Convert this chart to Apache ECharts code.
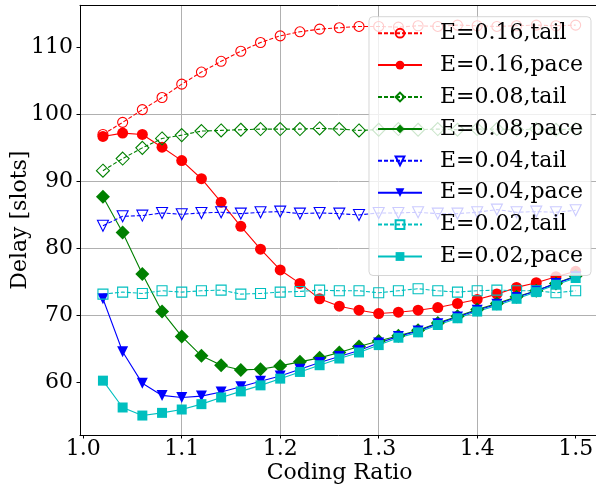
<!DOCTYPE html>
<html>
<head>
<meta charset="utf-8">
<script src="https://cdn.jsdelivr.net/npm/echarts@6/dist/echarts.min.js"></script>
<style>html,body{margin:0;padding:0;background:#fff;}#c{width:596px;height:489px;}</style>
</head>
<body>
<div id="c"></div>
<script>
const xValues = [1.02,1.04,1.06,1.08,1.10,1.12,1.14,1.16,1.18,1.20,1.22,1.24,1.26,1.28,1.30,1.32,1.34,1.36,1.38,1.40,1.42,1.44,1.46,1.48,1.50];
const tail016 = [97.0,98.8,100.7,102.5,104.5,106.3,107.9,109.4,110.7,111.7,112.3,112.7,112.9,113.1,113.1,113.0,113.2,113.1,113.3,113.2,113.1,113.2,113.3,113.2,113.3];
const pace016 = [96.7,97.2,97.0,95.1,93.1,90.4,86.9,83.3,79.9,76.8,74.8,72.5,71.4,70.8,70.3,70.5,70.8,71.2,71.8,72.4,73.2,74.2,74.9,75.8,76.6];
const tail008 = [91.6,93.4,95.0,96.4,96.9,97.5,97.6,97.7,97.8,97.8,97.8,97.9,97.8,97.6,97.7,97.8,97.7,97.8,97.7,97.8,97.8,97.7,97.8,97.7,97.8];
const pace008 = [87.7,82.4,76.2,70.6,66.9,64.0,62.6,61.9,62.0,62.5,63.1,63.7,64.5,65.4,66.2,67.0,67.8,68.9,69.9,70.9,71.8,72.8,73.7,74.8,75.9];
const tail004 = [83.4,84.8,84.9,85.3,85.1,85.3,85.4,85.2,85.4,85.5,85.2,85.3,85.2,85.0,85.3,85.3,85.4,85.2,85.2,85.4,85.8,85.4,85.5,85.4,85.7];
const pace004 = [72.5,64.6,59.9,58.1,57.8,58.0,58.6,59.4,60.2,61.0,62.0,63.0,63.9,64.8,65.9,66.9,67.7,68.8,69.8,70.8,71.7,72.7,73.7,74.8,75.8];
const tail002 = [73.2,73.5,73.3,73.7,73.5,73.7,73.8,73.2,73.3,73.5,73.6,73.8,73.7,73.7,73.4,73.7,74.0,73.7,73.5,73.7,73.8,73.7,73.7,73.4,73.7];
const pace002 = [60.3,56.3,55.1,55.5,56.0,56.8,57.8,58.7,59.6,60.6,61.6,62.6,63.6,64.5,65.6,66.7,67.5,68.6,69.6,70.6,71.5,72.5,73.5,74.6,75.6];
const xTicks = [1.0,1.1,1.2,1.3,1.4,1.5];
const yTicks = [60,70,80,90,100,110];
const seriesNames = ['E=0.16,tail','E=0.16,pace','E=0.08,tail','E=0.08,pace','E=0.04,tail','E=0.04,pace','E=0.02,tail','E=0.02,pace'];

const FONT = 'DejaVu Serif';
const RED = '#ff0000', GREEN = '#008000', BLUE = '#0000ff', CYAN = '#00bfbf';

function pairs(ys){ return xValues.map((x,i)=>[x, ys[i]]); }
function mk(name, ys, color, dashed, symbol, size, filled, rotate){
  return {
    name: name, type: 'line', data: pairs(ys),
    symbol: symbol, symbolSize: size, symbolRotate: rotate || 0,
    showSymbol: true, silent: true, animation: false,
    lineStyle: { color: color, width: 1.1, type: dashed ? [4,2] : 'solid' },
    itemStyle: filled ? { color: color, borderWidth: 0 } : { color: 'rgba(255,255,255,0)', borderColor: color, borderWidth: 1.1 },
    emphasis: { disabled: true }
  };
}

const chart = echarts.init(document.getElementById('c'), null, {renderer: 'canvas'});
const axisText = { fontFamily: FONT, fontSize: 22, color: '#000' };
chart.setOption({
  animation: false,
  backgroundColor: '#fff',
  grid: { left: 80, right: -3.3, top: 5.3, bottom: 54, containLabel: false, outerBoundsMode: 'none' },
  xAxis: [{
    type: 'value', min: 0.9967, max: 1.524, position: 'bottom',
    name: 'Coding Ratio', nameLocation: 'middle', nameGap: 27, nameMoveOverlap: false,
    nameTextStyle: axisText,
    axisLine: { show: true, onZero: false, lineStyle: { color: '#000', width: 1 } },
    axisTick: { show: true, inside: false, length: 3.5, customValues: xTicks, lineStyle: { color: '#000', width: 1 } },
    axisLabel: Object.assign({ margin: 3, customValues: xTicks, formatter: v => Number(v).toFixed(1) }, axisText),
    splitLine: { show: true, showMinLine: false, showMaxLine: false, lineStyle: { color: '#b0b0b0', width: 1 } }
  }, {
    type: 'value', min: 0.9967, max: 1.524, position: 'top',
    axisLine: { show: true, onZero: false, lineStyle: { color: '#000', width: 1 } },
    axisTick: { show: false }, axisLabel: { show: false }, splitLine: { show: false }
  }],
  yAxis: [{
    type: 'value', min: 52.2, max: 116.25, position: 'left',
    name: 'Delay [slots]', nameLocation: 'middle', nameGap: 49, nameRotate: 90, nameMoveOverlap: false,
    nameTextStyle: axisText,
    axisLine: { show: true, onZero: false, lineStyle: { color: '#000', width: 1 } },
    axisTick: { show: true, inside: false, length: 3.5, customValues: yTicks, lineStyle: { color: '#000', width: 1 } },
    axisLabel: Object.assign({ margin: 7, customValues: yTicks, formatter: v => String(v) }, axisText),
    splitLine: { show: true, showMinLine: false, showMaxLine: false, lineStyle: { color: '#b0b0b0', width: 1 } }
  }],
  legend: {
    orient: 'vertical', left: 369, top: 16.7,
    padding: [5.5, 8, 8, 8],
    itemWidth: 44, itemHeight: 11, itemGap: 9.9,
    backgroundColor: 'rgba(255,255,255,0.8)',
    borderColor: 'rgba(204,204,204,0.8)', borderWidth: 1, borderRadius: 4,
    textStyle: { fontFamily: FONT, fontSize: 22, color: '#000', lineHeight: 22, padding: [0,0,0,13] },
    selectedMode: false,
    data: seriesNames
  },
  series: [
    mk(seriesNames[0], tail016, RED, true, 'circle', 10, false),
    mk(seriesNames[1], pace016, RED, false, 'circle', 11, true),
    mk(seriesNames[2], tail008, GREEN, true, 'diamond', 13, false),
    mk(seriesNames[3], pace008, GREEN, false, 'diamond', 14, true),
    mk(seriesNames[4], tail004, BLUE, true, 'triangle', 11, false, 180),
    mk(seriesNames[5], pace004, BLUE, false, 'triangle', 11, true, 180),
    mk(seriesNames[6], tail002, CYAN, true, 'rect', 10, false),
    mk(seriesNames[7], pace002, CYAN, false, 'rect', 10, true)
  ]
});
</script>
</body>
</html>
